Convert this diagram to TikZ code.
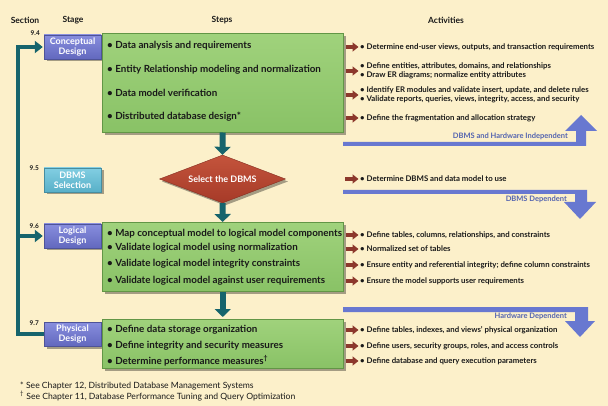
\documentclass[tikz,border=0pt]{standalone}
\usepackage{fontspec}
\setmainfont{Lato}
\usetikzlibrary{arrows.meta,shapes.geometric,shadows}
\definecolor{bg}{RGB}{252,240,202}
\definecolor{grn}{RGB}{137,194,102}
\definecolor{grnl}{RGB}{160,210,124}
\definecolor{grnd}{RGB}{98,150,70}
\definecolor{stg}{RGB}{98,104,190}
\definecolor{stgl}{RGB}{136,142,222}
\definecolor{sel}{RGB}{88,176,200}
\definecolor{sell}{RGB}{130,206,226}
\definecolor{dia}{RGB}{166,58,40}
\definecolor{dial}{RGB}{196,84,60}
\definecolor{tealc}{RGB}{22,100,108}
\definecolor{redc}{RGB}{140,56,44}
\definecolor{barc}{RGB}{104,120,208}
\definecolor{bartxt}{RGB}{84,100,176}
\definecolor{txt}{RGB}{25,25,25}
\begin{document}
\begin{tikzpicture}[x=1pt,y=-1pt,
  hdr/.style={font=\fontsize{8.5}{10}\selectfont\bfseries, text=txt, inner sep=0},
  sec/.style={font=\fontsize{6.5}{7}\selectfont\bfseries, text=txt, anchor=east, inner sep=0},
  shad/.style={drop shadow={shadow xshift=2.5pt, shadow yshift=-2.5pt, opacity=0.35, fill=black}},
  stagebox/.style={shad, draw=stg!80!black, line width=0.4pt, top color=stgl, bottom color=stg, text=white,
     font=\fontsize{9}{10.5}\selectfont\bfseries, align=center, minimum width=57pt, minimum height=24pt, inner sep=0},
  selbox/.style={stagebox, draw=sel!80!black, top color=sell, bottom color=sel},
  greenbox/.style={shad, draw=grnd, line width=0.5pt, top color=grnl, bottom color=grn, minimum width=241pt, inner sep=0, anchor=north west},
  stepnode/.style={anchor=west, inner sep=0, font=\fontsize{9.8}{11}\selectfont\bfseries, text=txt},
  act/.style={anchor=west, inner sep=0, align=left, font=\fontsize{7.8}{8.4}\selectfont\bfseries, text=txt},
  redarr/.style={draw=redc, line width=3.5pt, -{Triangle[length=6pt,width=9pt]}, shorten <=2pt, shorten >=1.5pt},
  tealarr/.style={draw=tealc, line width=6pt, -{Triangle[length=8pt,width=16pt]}},
  loopline/.style={draw=tealc, line width=4pt, -{Triangle[length=8pt,width=12pt]}, shorten >=1pt},
  bartext/.style={anchor=east, inner sep=0, font=\fontsize{7.5}{8}\selectfont\bfseries, text=bartxt},
  foot/.style={anchor=west, inner sep=0, font=\fontsize{8.6}{9}\selectfont, text=txt}
]
\fill[bg] (0,0) rectangle (608,406);
\useasboundingbox (0,0) rectangle (608,406);

% headers
\node[hdr] (hsec) at (25,20) {Section};
\node[hdr] (hstage) at (73,20) {Stage};
\node[hdr] (hsteps) at (222,20) {Steps};
\node[hdr] (hact) at (446,20) {Activities};

\coordinate (lx) at (18,0);

% stage boxes
\node[stagebox] (conc) at (72.5,47) {Conceptual\\Design};
\node[selbox] (dbsel) at (72.5,180) {DBMS\\Selection};
\node[stagebox] (logi) at (72.5,236) {Logical\\Design};
\node[stagebox] (phys) at (72.5,334) {Physical\\Design};

\node[sec] (s94) at (40,33) {9.4};
\node[sec] (s95) at (39,168) {9.5};
\node[sec] (s96) at (39,226) {9.6};
\node[sec] (s97) at (39,323) {9.7};

\draw[loopline] (phys.west) -- (phys.west -| lx) |- (conc.west);
\draw[loopline] (logi.west -| lx) -- (logi.west);

% green boxes
\node[greenbox, minimum height=99pt] (g1) at (102,33) {};
\node[greenbox, minimum height=69pt] (g2) at (102,222) {};
\node[greenbox, minimum height=49pt] (g3) at (102,319) {};

% diamond
\node[diamond, aspect=2.6, inner sep=0, minimum width=126pt, minimum height=48pt,
      draw=dia!80!black, top color=dial, bottom color=dia, text=white,
      font=\fontsize{9}{10}\selectfont\bfseries, shad] (dsel) at (222.5,179) {Select the DBMS};

\draw[tealarr] (g1.south) -- (dsel.north);
\draw[tealarr] (dsel.south) -- (g2.north);
\draw[tealarr, shorten >=2pt] (g2.south) -- (g3.north);

% steps
\node[stepnode] (c1) at (107,46) {• Data analysis and requirements};
\node[stepnode] (c2) at (107,70) {• Entity Relationship modeling and normalization};
\node[stepnode] (c3) at (107,93) {• Data model verification};
\node[stepnode] (c4) at (107,117) {• Distributed database design*};

\node[stepnode] (l1) at (107,234) {• Map conceptual model to logical model components};
\node[stepnode] (l2) at (107,248) {• Validate logical model using normalization};
\node[stepnode] (l3) at (107,264) {• Validate logical model integrity constraints};
\node[stepnode] (l4) at (107,281) {• Validate logical model against user requirements};

\node[stepnode] (p1) at (107,330) {• Define data storage organization};
\node[stepnode] (p2) at (107,346) {• Define integrity and security measures};
\node[stepnode] (p3) at (107,361) {• Determine performance measures\textsuperscript{\textdagger}};

% activities
\node[act] (a1) at (360,47) {• Determine end-user views, outputs, and transaction requirements};
\node[act] (a2) at (360,71) {• Define entities, attributes, domains, and relationships\\• Draw ER diagrams; normalize entity attributes};
\node[act] (a3) at (360,95) {• Identify ER modules and validate insert, update, and delete rules\\• Validate reports, queries, views, integrity, access, and security};
\node[act] (a4) at (360,118) {• Define the fragmentation and allocation strategy};
\node[act] (a5) at (360,179) {• Determine DBMS and data model to use};
\node[act] (a6) at (360,235) {• Define tables, columns, relationships, and constraints};
\node[act] (a7) at (360,249) {• Normalized set of tables};
\node[act] (a8) at (360,265) {• Ensure entity and referential integrity; define column constraints};
\node[act] (a9) at (360,281) {• Ensure the model supports user requirements};
\node[act] (a10) at (360,330) {• Define tables, indexes, and views' physical organization};
\node[act] (a11) at (360,346) {• Define users, security groups, roles, and access controls};
\node[act] (a12) at (360,361) {• Define database and query execution parameters};

\coordinate (r5) at (343,179);
\foreach \a in {a1,a2,a3,a4} \draw[redarr] (g1.east |- \a.west) -- (\a.west);
\draw[redarr] (r5) -- (a5.west);
\foreach \a in {a6,a7,a8,a9} \draw[redarr] (g2.east |- \a.west) -- (\a.west);
\foreach \a in {a10,a11,a12} \draw[redarr] (g3.east |- \a.west) -- (\a.west);

% blue bars
\fill[barc] (343,142) -- (576,142) -- (576,131) -- (565,131) -- (581,115) -- (597,131) -- (586,131) -- (586,146) -- (343,146) -- cycle;
\fill[barc] (343,190) -- (587,190) -- (587,202) -- (596,202) -- (580,219) -- (564,202) -- (575,202) -- (575,194) -- (343,194) -- cycle;
\fill[barc] (343,307) -- (588,307) -- (588,321) -- (595,321) -- (580,337) -- (565,321) -- (575,321) -- (575,312) -- (343,312) -- cycle;
\node[bartext] (b1) at (568,136) {DBMS and Hardware Independent};
\node[bartext] (b2) at (567,199) {DBMS Dependent};
\node[bartext] (b3) at (567,316) {Hardware Dependent};

% footnotes
\node[foot] (f1) at (20,386) {* See Chapter 12, Distributed Database Management Systems};
\node[foot] (f2) at (20,396) {\textsuperscript{\textdagger} See Chapter 11, Database Performance Tuning and Query Optimization};
\end{tikzpicture}
\end{document}
